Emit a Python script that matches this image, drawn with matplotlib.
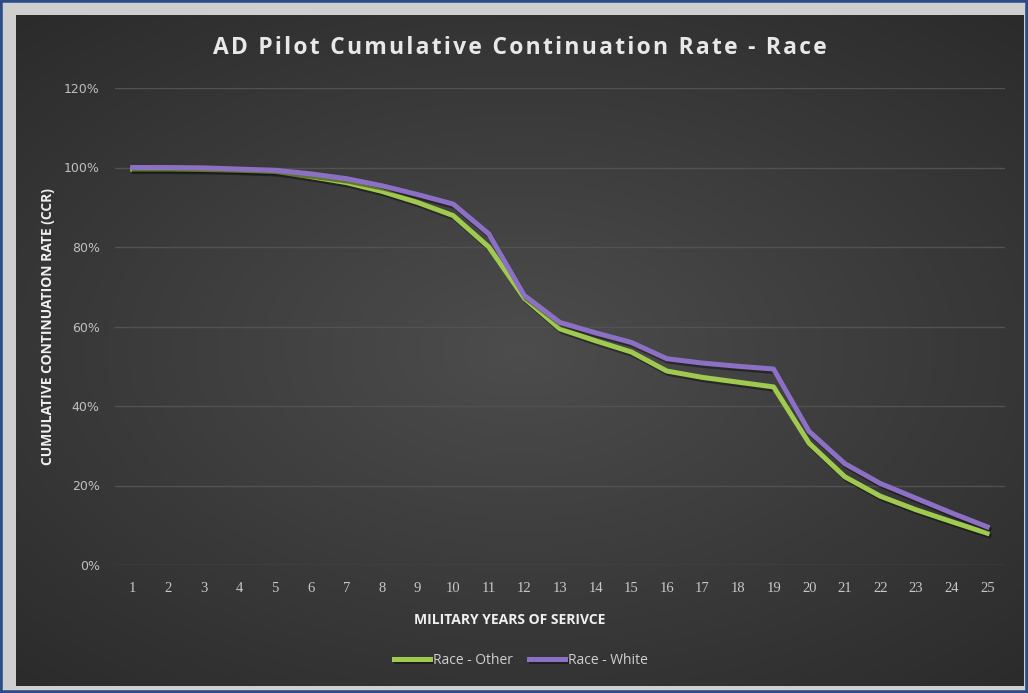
"""AD pilot cumulative continuation rate by race, dark Excel-style line chart."""

import matplotlib

matplotlib.use("Agg")
import matplotlib.patheffects as pe
import matplotlib.pyplot as plt
import numpy as np
from matplotlib.patches import Rectangle
from matplotlib.ticker import FuncFormatter

years = list(range(1, 26))
race_other = [99.6, 99.6, 99.5, 99.3, 99.0, 97.7, 96.2, 94.0, 91.2, 87.9,
              80.0, 67.1, 59.4, 56.4, 53.6, 48.8, 47.2, 46.0, 44.8, 30.6,
              22.2, 17.3, 13.9, 10.9, 8.0]
race_white = [100.0, 100.0, 99.9, 99.6, 99.3, 98.4, 97.2, 95.4, 93.2, 90.8,
              83.3, 67.8, 61.0, 58.4, 56.0, 51.9, 50.8, 50.0, 49.3, 33.6,
              25.5, 20.5, 16.8, 13.1, 9.6]
series_labels = ["Race - Other", "Race - White"]
series_colors = ["#9fc94f", "#8b70c4"]
title = "AD Pilot Cumulative Continuation Rate - Race"

W, H = 1028, 693
fig = plt.figure(figsize=(W / 100, H / 100), dpi=100)
fig.patch.set_facecolor("#cfcfcf")

# blue outer border
fig.patches.append(Rectangle((0, 0), 1, 1, transform=fig.transFigure,
                             fill=False, edgecolor="#2b4c86", linewidth=4))

# dark panel with a soft radial gradient
bg = fig.add_axes([16 / W, 7 / H, (1024 - 16) / W, (686 - 15) / H])
gx, gy = np.meshgrid(np.linspace(-1, 1, 400), np.linspace(-1, 1, 270))
r = np.sqrt((gx * 0.95) ** 2 + (gy * 1.05) ** 2)
shade = 0.30 - 0.13 * np.clip(r, 0, 1.4) / 1.4
bg.imshow(np.dstack([shade] * 3), aspect="auto", extent=(0, 1, 0, 1),
          interpolation="bilinear")
bg.set_axis_off()

ax = fig.add_axes([115 / W, 128 / H, (1005 - 115) / W, (605 - 128) / H])
ax.set_facecolor("none")

shadow = [pe.SimpleLineShadow(offset=(1.2, -1.8), shadow_color="black", alpha=0.4),
          pe.Normal()]
for vals, lab, col in zip([race_other, race_white], series_labels, series_colors):
    ax.plot(years, vals, color=col, linewidth=3.6, label=lab,
            solid_joinstyle="round", path_effects=shadow)

ax.set_xlim(0.5, 25.5)
ax.set_ylim(0, 120)
ax.set_yticks(range(0, 121, 20))
ax.set_xticks(years)
ax.yaxis.set_major_formatter(FuncFormatter(lambda v, _: f"{v:.0f}%"))
ax.grid(axis="y", color="#525252", linewidth=1.0)
ax.set_axisbelow(True)
for s in ax.spines.values():
    s.set_visible(False)
ax.tick_params(length=0)
ax.tick_params(axis="y", colors="#c0c0c0", labelsize=9, pad=11)
ax.tick_params(axis="x", colors="#c8c8c8", labelsize=10.5, pad=12)
for t in ax.get_xticklabels():
    t.set_fontfamily("Liberation Serif")

# spaced-out title, like the original's expanded character spacing
fig.text(520 / W, 1 - 48 / H, "\u200a".join(title),
         ha="center", va="center", color="#e8e8e8", fontsize=16.5,
         fontweight="bold", family=["Open Sans", "DejaVu Sans"])
fig.text(48 / W, 1 - 327 / H, "CUMULATIVE CONTINUATION RATE (CCR)",
         rotation=90, ha="center", va="center", color="#f0f0f0",
         fontsize=10, fontweight="bold", family="Open Sans")
fig.text(510 / W, 1 - 620 / H, "MILITARY YEARS OF SERIVCE", ha="center",
         va="center", color="#f0f0f0", fontsize=10, fontweight="bold",
         family="Open Sans")

fig.legend(loc="center", bbox_to_anchor=(521 / W, 1 - 660 / H), ncol=2,
           frameon=False, labelcolor="#d0d0d0",
           handlelength=2.6, handletextpad=0.2, columnspacing=1.2,
           prop={"family": "Open Sans", "size": 10})

fig.savefig("out.png", dpi=100, facecolor=fig.get_facecolor())
